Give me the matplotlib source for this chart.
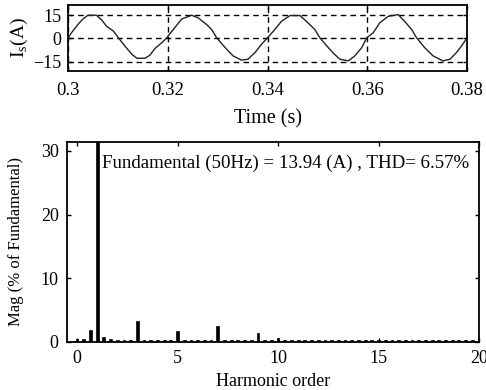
import matplotlib
matplotlib.use("Agg")
import matplotlib.pyplot as plt
import numpy as np

plt.rcParams['font.family'] = ['Liberation Serif', 'DejaVu Serif']
plt.rcParams['mathtext.fontset'] = 'custom'
plt.rcParams['mathtext.rm'] = 'Liberation Serif'

# ---- waveform data ----
time_s = [0.3000, 0.3007, 0.3020, 0.3030, 0.3040, 0.3057, 0.3068, 0.3077, 0.3091, 0.3101,
          0.3114, 0.3128, 0.3138, 0.3154, 0.3164, 0.3174, 0.3188, 0.3198, 0.3211, 0.3228,
          0.3248, 0.3261, 0.3278, 0.3288, 0.3298, 0.3315, 0.3331, 0.3348, 0.3361, 0.3375,
          0.3388, 0.3402, 0.3412, 0.3428, 0.3445, 0.3465, 0.3478, 0.3495, 0.3505, 0.3519,
          0.3532, 0.3545, 0.3562, 0.3575, 0.3589, 0.3599, 0.3612, 0.3625, 0.3642, 0.3662,
          0.3675, 0.3689, 0.3699, 0.3715, 0.3732, 0.3752, 0.3766, 0.3779, 0.3789, 0.3799]
current_a = [0.4, 3.6, 9.0, 12.5, 14.9, 14.9, 11.7, 7.9, 4.7, 0.4,
             -4.9, -10.2, -12.8, -12.8, -10.9, -6.6, -2.8, 0.4, 5.7, 12.5,
             14.9, 13.2, 8.9, 5.7, 0.4, -5.9, -11.3, -14.0, -13.4, -9.1,
             -3.8, 1.1, 4.7, 11.0, 14.7, 14.7, 11.0, 5.7, 0.4, -4.9,
             -9.5, -13.4, -14.5, -11.3, -5.9, 0.4, 3.6, 10.0, 14.2, 15.3,
             11.0, 5.7, 0.4, -5.9, -11.3, -14.5, -13.4, -9.1, -4.9, -0.2]

# ---- harmonic spectrum, order in steps of 1/3 ----
harm_order = [0, 1/3, 2/3, 1, 4/3, 5/3, 2, 7/3, 8/3, 3, 10/3, 11/3, 4, 13/3, 14/3, 5,
              16/3, 17/3, 6, 19/3, 20/3, 7, 22/3, 23/3, 8, 25/3, 26/3, 9, 28/3, 29/3, 10,
              31/3, 32/3, 11, 34/3, 35/3, 12, 37/3, 38/3, 13, 40/3, 41/3, 14, 43/3, 44/3, 15,
              46/3, 47/3, 16, 49/3, 50/3, 17, 52/3, 53/3, 18, 55/3, 56/3, 19, 58/3, 59/3, 20]
harm_mag = [0.4, 0.5, 1.9, 100.0, 0.8, 0.45, 0.25, 0.25, 0.25, 3.35, 0.25, 0.25, 0.25, 0.25, 0.25, 1.65,
            0.25, 0.25, 0.25, 0.25, 0.25, 2.5, 0.25, 0.25, 0.25, 0.25, 0.25, 1.4, 0.25, 0.25, 0.6,
            0.25, 0.25, 0.25, 0.25, 0.25, 0.25, 0.25, 0.25, 0.25, 0.25, 0.25, 0.25, 0.25, 0.25, 0.25,
            0.25, 0.25, 0.25, 0.25, 0.25, 0.25, 0.25, 0.25, 0.25, 0.25, 0.25, 0.25, 0.25, 0.25, 0.25]

top_xticks = [0.3, 0.32, 0.34, 0.36, 0.38]
top_xticklabels = ['0.3', '0.32', '0.34', '0.36', '0.38']
top_yticks = [-15, 0, 15]
bot_xticks = [0, 5, 10, 15, 20]
bot_yticks = [0, 10, 20, 30]
annotation = 'Fundamental (50Hz) = 13.94 (A) , THD= 6.57%'

W, H = 486, 390
fig = plt.figure(figsize=(W / 100, H / 100), dpi=100)

# top axes
ax1 = fig.add_axes([68 / W, 1 - 71 / H, (467 - 68) / W, (71 - 5) / H])
ax1.plot(time_s, current_a, color='#222222', lw=1.0)
ax1.set_xlim(0.3, 0.38)
ax1.set_ylim(-21, 21.5)
ax1.set_xticks(top_xticks)
ax1.set_xticklabels(top_xticklabels)
ax1.set_yticks(top_yticks)
ax1.grid(True, color='black', linestyle=(0, (4, 3)), linewidth=1.0)
ax1.set_xlabel('Time (s)', fontsize=14.5, labelpad=7)
ax1.set_ylabel('I$_\\mathregular{s}$(A)', fontsize=14, labelpad=2)
ax1.tick_params(labelsize=13.5)
ax1.tick_params(axis='x', pad=8)
ax1.tick_params(axis='y', pad=5, labelsize=13)

# bottom axes
ax2 = fig.add_axes([67 / W, 1 - 342 / H, (479 - 67) / W, (342 - 142) / H])
ax2.bar(harm_order, harm_mag, width=0.14, color='black', edgecolor='black', linewidth=0.5)
ax2.axhline(0, color='black', lw=1.0)
ax2.set_xlim(-0.5, 20)
ax2.set_ylim(0, 31.4)
ax2.set_xticks(bot_xticks)
ax2.set_yticks(bot_yticks)
ax2.set_xlabel('Harmonic order', fontsize=13, labelpad=4)
ax2.set_ylabel('Mag (% of Fundamental)', fontsize=12, labelpad=12)
ax2.tick_params(labelsize=13, pad=6)
ax2.text(1.25, 28.0, annotation, fontsize=13.6, va='center', ha='left')

for ax in (ax1, ax2):
    for sp in ax.spines.values():
        sp.set_linewidth(1.3)
        sp.set_color('black')
    ax.tick_params(direction='in', length=3, width=1.0, top=True, right=True,
                   colors='black')

fig.savefig('out.png', dpi=100)
